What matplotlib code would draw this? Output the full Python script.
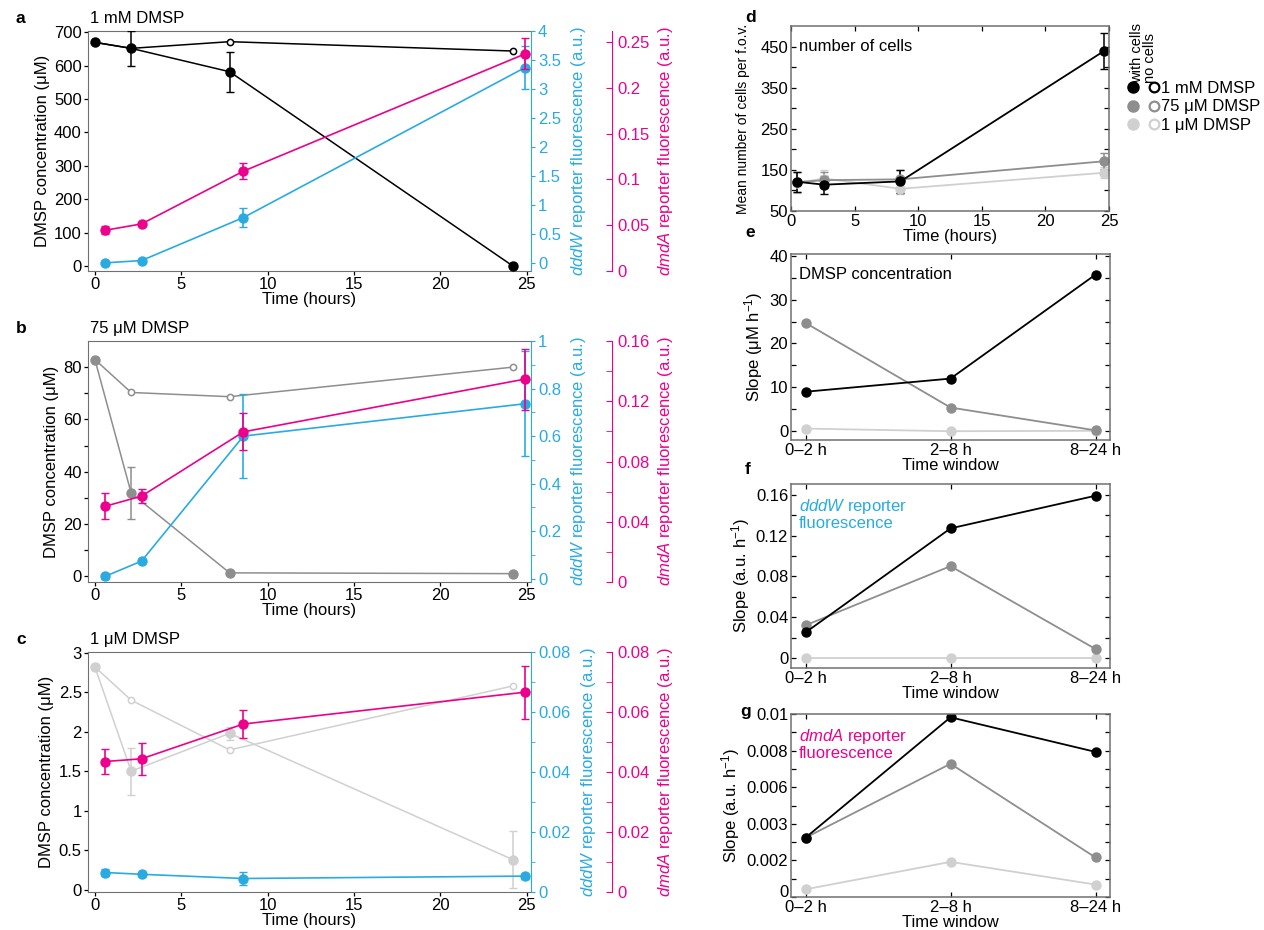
import numpy as np
import matplotlib
matplotlib.use('Agg')
import matplotlib.pyplot as plt
from matplotlib.lines import Line2D
from matplotlib.legend_handler import HandlerTuple
from matplotlib.ticker import FixedLocator, FuncFormatter

plt.rcParams['font.family'] = ['Liberation Sans', 'DejaVu Sans']
plt.rcParams['font.size'] = 12
plt.rcParams['mathtext.fontset'] = 'custom'
plt.rcParams['mathtext.rm'] = 'Liberation Sans'
plt.rcParams['mathtext.it'] = 'Liberation Sans:italic'

BLUE = '#29abe2'
PINK = '#ec008c'
BLACK = '#000000'
DGREY = '#8e8e8e'
LGREY = '#d0d0d0'
FRAME = '#707070'

# ---- data ----
t_dmsp = [0, 2.1, 7.8, 24.2]
t_rep = [0.6, 2.7, 8.6, 24.9]
t_cells = [0.5, 2.6, 8.6, 24.6]

# a: 1 mM DMSP
a_cells = [670, 652, 582, 0]
a_cells_err = [0, 52, 60, 0]
a_nocells = [670, 652, 672, 644]
a_dddW = [0.01, 0.05, 0.79, 3.37]
a_dddW_err = [0.02, 0.02, 0.16, 0.37]
a_dmdA = [0.0445, 0.0514, 0.109, 0.237]
a_dmdA_err = [0.0045, 0.002, 0.0085, 0.017]

# b: 75 uM DMSP
b_cells = [82.9, 31.8, 1.3, 1.0]
b_cells_err = [0, 9.9, 0, 0]
b_nocells = [82.9, 70.3, 68.7, 80.0]
b_dddW = [0.01, 0.074, 0.60, 0.736]
b_dddW_err = [0.01, 0.01, 0.175, 0.22]
b_dmdA = [0.0503, 0.057, 0.0997, 0.1347]
b_dmdA_err = [0.0086, 0.0047, 0.0122, 0.0203]

# c: 1 uM DMSP
c_cells = [2.82, 1.50, 1.98, 0.38]
c_cells_err = [0, 0.30, 0.08, 0.36]
c_nocells = [2.82, 2.40, 1.77, 2.58]
c_dddW = [0.0065, 0.0059, 0.0045, 0.0053]
c_dddW_err = [0.0012, 0.0006, 0.0022, 0.0008]
c_dmdA = [0.0435, 0.0444, 0.0560, 0.0666]
c_dmdA_err = [0.0043, 0.0053, 0.0047, 0.0089]

# d: number of cells
d_1mM = [121, 114, 122, 439]
d_1mM_err = [25, 22, 28, 43]
d_75uM = [120, 125, 127, 171]
d_75uM_err = [25, 20, 22, 20]
d_1uM = [119, 129, 104, 143]
d_1uM_err = [25, 20, 12, 13]

# e-g: slopes per time window
windows = ['0\u20132 h', '2\u20138 h', '8\u201324 h']
e_1mM = [9.0, 12.0, 35.7]
e_75uM = [24.7, 5.4, 0.2]
e_1uM = [0.6, 0.0, 0.1]
f_1mM = [0.025, 0.127, 0.159]
f_75uM = [0.032, 0.090, 0.0088]
f_1uM = [0.0, 0.0, 0.0]
g_1mM = [0.00324, 0.00982, 0.00793]
g_75uM = [0.00324, 0.00728, 0.00216]
g_1uM = [0.00042, 0.00192, 0.00068]
g_ticklabels = ['0', '0.002', '0.003', '0.006', '0.008', '0.01']

fig = plt.figure(figsize=(12.64, 9.3), dpi=100)


def box(l, t, r, b):
    return [l / 1264, 1 - b / 930, (r - l) / 1264, (b - t) / 930]


gfmt = FuncFormatter(lambda v, p: '%g' % round(v, 6))


def reporter_panel(pos, grey, cells, cells_err, nocells, dddW, dddW_err, dmdA, dmdA_err,
                   ylim, yt, ymin, blim, bt, bmin, plim, pt, pmin, title, letter):
    ax = fig.add_axes(pos)
    ax2 = ax.twinx()
    ax3 = ax.twinx()

    ax.plot(t_dmsp, nocells, '-o', color=grey, mfc='white', mec=grey, ms=4.5, mew=1.1, lw=1.1, zorder=2)
    ax.errorbar(t_dmsp, cells, yerr=cells_err, fmt='-o', color=grey, ms=6.5, lw=1.1,
                elinewidth=1.1, capsize=3, zorder=3)
    ax2.errorbar(t_rep, dddW, yerr=dddW_err, fmt='-o', color=BLUE, ms=6.5, lw=1.2,
                 elinewidth=1.2, capsize=3)
    ax3.errorbar(t_rep, dmdA, yerr=dmdA_err, fmt='-o', color=PINK, ms=6.5, lw=1.2,
                 elinewidth=1.2, capsize=3)

    ax.set_xlim(-0.4, 25.25)
    ax.set_xticks([0, 5, 10, 15, 20, 25])
    ax.set_ylim(*ylim)
    ax.yaxis.set_major_locator(FixedLocator(yt))
    ax.yaxis.set_minor_locator(FixedLocator(ymin))
    ax.yaxis.set_major_formatter(gfmt)
    ax.tick_params(direction='out', length=3, pad=1.5, width=0.9)
    ax.tick_params(which='minor', direction='out', length=3, width=0.9)
    ax.set_xlabel('Time (hours)', labelpad=0)
    ax.set_ylabel('DMSP concentration (\u03bcM)', labelpad=3)
    for s in ['left', 'bottom', 'top']:
        ax.spines[s].set_color(FRAME)
    ax.spines['right'].set_visible(False)

    ax2.set_ylim(*blim)
    ax2.yaxis.set_major_locator(FixedLocator(bt))
    ax2.yaxis.set_minor_locator(FixedLocator(bmin))
    ax2.yaxis.set_major_formatter(gfmt)
    ax2.tick_params(axis='y', which='both', colors=BLUE, direction='out', length=3, pad=2)
    for s in ['left', 'bottom', 'top']:
        ax2.spines[s].set_visible(False)
    ax2.spines['right'].set_color(BLUE)
    ax2.set_ylabel(r'$\it{dddW}$ reporter fluorescence (a.u.)', color=BLUE, labelpad=6)

    ax3.set_ylim(*plim)
    ax3.yaxis.set_major_locator(FixedLocator(pt))
    ax3.yaxis.set_minor_locator(FixedLocator(pmin))
    ax3.yaxis.set_major_formatter(gfmt)
    ax3.spines['right'].set_position(('axes', 1.183))
    for s in ['left', 'bottom', 'top']:
        ax3.spines[s].set_visible(False)
    ax3.spines['right'].set_color(PINK)
    ax3.tick_params(axis='y', which='both', colors=PINK, direction='in', length=4, pad=4)
    ax3.set_ylabel(r'$\it{dmdA}$ reporter fluorescence (a.u.)', color=PINK, labelpad=4)

    ax.text(0.005, 1.02, title, transform=ax.transAxes, ha='left', va='bottom')
    fig.text(pos[0] - 0.057, pos[1] + pos[3] + 0.0135, letter, weight='bold', fontsize=12.5, va='center')
    return ax


reporter_panel(box(88, 31, 531, 271), BLACK, a_cells, a_cells_err, a_nocells,
               a_dddW, a_dddW_err, a_dmdA, a_dmdA_err,
               (-15, 704), np.arange(0, 701, 100), [],
               (-0.13, 4.0), np.arange(0, 4.01, 0.5), [],
               (0, 0.262), [0, 0.05, 0.1, 0.15, 0.2, 0.25], [],
               '1 mM DMSP', 'a')

reporter_panel(box(88, 341, 531, 582), DGREY, b_cells, b_cells_err, b_nocells,
               b_dddW, b_dddW_err, b_dmdA, b_dmdA_err,
               (-2.2, 90), [0, 20, 40, 60, 80], [10, 30, 50, 70],
               (-0.014, 1.0), [0, 0.2, 0.4, 0.6, 0.8, 1.0], [0.1, 0.3, 0.5, 0.7, 0.9],
               (0, 0.16), [0, 0.04, 0.08, 0.12, 0.16], [0.02, 0.06, 0.1, 0.14],
               '75 \u03bcM DMSP', 'b')

reporter_panel(box(88, 652, 531, 892), LGREY, c_cells, c_cells_err, c_nocells,
               c_dddW, c_dddW_err, c_dmdA, c_dmdA_err,
               (-0.03, 3.01), [0, 0.5, 1, 1.5, 2, 2.5, 3], [],
               (0, 0.08), [0, 0.02, 0.04, 0.06, 0.08], [0.01, 0.03, 0.05, 0.07],
               (0, 0.08), [0, 0.02, 0.04, 0.06, 0.08], [0.01, 0.03, 0.05, 0.07],
               '1 \u03bcM DMSP', 'c')


def frame_right(ax):
    for s in ax.spines.values():
        s.set_color(FRAME)
        s.set_linewidth(1.1)
    ax.tick_params(which='both', direction='in', top=True, right=True, length=3.5, width=0.9, pad=2)


# d: number of cells
axd = fig.add_axes(box(791, 26, 1109, 211))
for y, err, c in [(d_1uM, d_1uM_err, LGREY), (d_75uM, d_75uM_err, DGREY), (d_1mM, d_1mM_err, BLACK)]:
    axd.errorbar(t_cells, y, yerr=err, fmt='-o', color=c, ms=6.5, lw=1.3, elinewidth=1.1, capsize=3)
axd.set_xlim(0, 25)
axd.set_ylim(50, 500)
axd.set_xticks([0, 5, 10, 15, 20, 25])
axd.yaxis.set_major_locator(FixedLocator([50, 150, 250, 350, 450]))
axd.yaxis.set_minor_locator(FixedLocator([100, 200, 300, 400]))
frame_right(axd)
axd.set_xlabel('Time (hours)', labelpad=0)
axd.set_ylabel('Mean number of cells per f.o.v.', fontsize=10)
axd.yaxis.set_label_coords(-0.13, 0.5)
axd.text(0.025, 0.93, 'number of cells', transform=axd.transAxes, ha='left', va='top')
fig.text(745 / 1264, 1 - 18 / 930, 'd', weight='bold', fontsize=12.5, va='center')

# legend for d
handles = []
for c in [BLACK, DGREY, LGREY]:
    h1 = Line2D([], [], marker='o', ls='none', color=c, ms=8)
    h2 = Line2D([], [], marker='o', ls='none', mfc='white', mec=c, mew=1.6, ms=7)
    handles.append((h1, h2))
fig.legend(handles, ['1 mM DMSP', '75 \u03bcM DMSP', '1 \u03bcM DMSP'],
           handler_map={tuple: HandlerTuple(ndivide=None, pad=0.5)},
           loc='upper left', bbox_to_anchor=(1127 / 1264, 1 - 81 / 930),
           frameon=False, handlelength=2.0, handletextpad=0.05, labelspacing=0.2,
           borderpad=0, borderaxespad=0, fontsize=12)
fig.text(1137 / 1264, 1 - 83 / 930, 'with cells', rotation=90, ha='center', va='bottom', fontsize=10.5)
fig.text(1150 / 1264, 1 - 83 / 930, 'no cells', rotation=90, ha='center', va='bottom', fontsize=10.5)


def slope_panel(pos, s1, s2, s3, ylim, yt, ymin, ylabel, letter, letter_xy, note, note_color,
                yticklabels=None):
    ax = fig.add_axes(pos)
    x = np.arange(len(windows))
    ax.plot(x, s3, '-o', color=LGREY, ms=6.5, lw=1.3)
    ax.plot(x, s2, '-o', color=DGREY, ms=6.5, lw=1.3)
    ax.plot(x, s1, '-o', color=BLACK, ms=6.5, lw=1.3)
    ax.set_xlim(-0.1, 2.1)
    ax.set_xticks(x)
    ax.set_xticklabels(windows)
    ax.set_ylim(*ylim)
    ax.yaxis.set_major_locator(FixedLocator(yt))
    ax.yaxis.set_minor_locator(FixedLocator(ymin))
    if yticklabels is None:
        ax.yaxis.set_major_formatter(gfmt)
    else:
        ax.set_yticklabels(yticklabels)
    frame_right(ax)
    ax.set_xlabel('Time window', labelpad=0)
    ax.set_ylabel(ylabel, labelpad=3)
    ax.text(0.025, 0.93, note, transform=ax.transAxes, ha='left', va='top', color=note_color,
            linespacing=1.05)
    fig.text(letter_xy[0] / 1264, 1 - letter_xy[1] / 930, letter, weight='bold', fontsize=12.5,
             va='center')
    return ax


slope_panel(box(791, 254, 1110, 440), e_1mM, e_75uM, e_1uM, (-2, 40.4),
            [0, 10, 20, 30, 40], [5, 15, 25, 35], 'Slope (\u03bcM h$^{-1}$)', 'e', (745, 232),
            'DMSP concentration', BLACK)
slope_panel(box(791, 484, 1110, 668), f_1mM, f_75uM, f_1uM, (-0.0098, 0.1705),
            [0, 0.04, 0.08, 0.12, 0.16], [0.02, 0.06, 0.1, 0.14], 'Slope (a.u. h$^{-1}$)', 'f',
            (745, 469), '$\\it{dddW}$ reporter\nfluorescence', BLUE)
axg = slope_panel(box(791, 714, 1110, 897), g_1mM, g_75uM, g_1uM, (0, 0.01),
                  [0, 0.002, 0.004, 0.006, 0.008, 0.01], [0.001, 0.003, 0.005, 0.007, 0.009],
                  'Slope (a.u. h$^{-1}$)', 'g', (740, 711),
                  '$\\it{dmdA}$ reporter\nfluorescence', PINK, yticklabels=g_ticklabels)
# lift the bottom "0" a little, as in the original, so it clears "0–2 h"
axg.get_yticklabels()[0].set_verticalalignment('baseline')

fig.savefig('out.png', dpi=100, facecolor='white')
